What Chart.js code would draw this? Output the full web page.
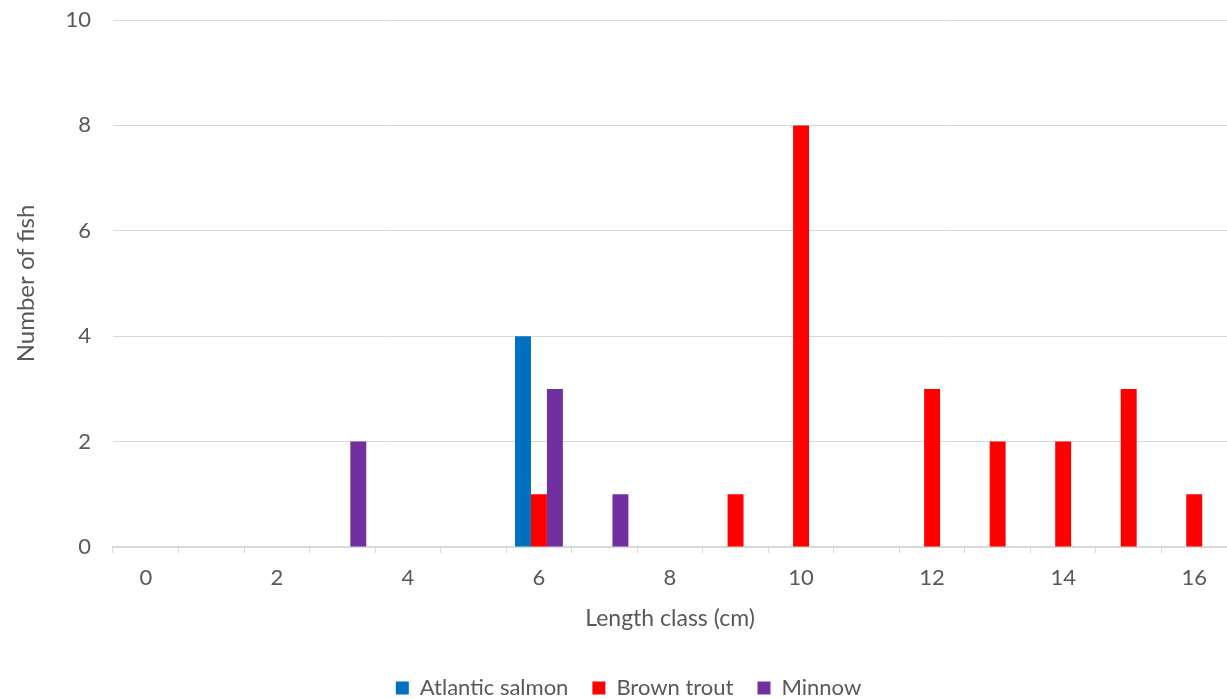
<!DOCTYPE html>
<html>
<head>
<meta charset="utf-8">
<script src="https://cdn.jsdelivr.net/npm/chart.js@4"></script>
<style>
  html, body { margin: 0; padding: 0; background: #fff; }
  #wrap { width: 1227px; height: 699px; }
</style>
</head>
<body>
<div id="wrap"><canvas id="myChart"></canvas></div>
<script>
const lengthClasses = ["0","1","2","3","4","5","6","7","8","9","10","11","12","13","14","15","16"];
const salmon = [0,0,0,0,0,0,4,0,0,0,0,0,0,0,0,0,0];
const trout  = [0,0,0,0,0,0,1,0,0,1,8,0,3,2,2,3,1];
const minnow = [0,0,0,2,0,0,3,1,0,0,0,0,0,0,0,0,0];
const yTicks = [0,2,4,6,8,10];

const textColor = "#595959";
const lineColor = "#d9d9d9";
const fontName = "Lato, 'Open Sans', sans-serif";

// legend sits a bit right of centre and close to the bottom edge, like Excel
const legendTweak = {
  id: "legendTweak",
  afterInit: function (chart) {
    const fit = chart.legend.fit;
    chart.legend.fit = function () {
      fit.call(this);
      this.height -= 10;
    };
  },
  afterLayout: function (chart) {
    chart.legend.left += 15;
    chart.legend.right += 15;
  }
};

new Chart("myChart", {
  type: "bar",
  data: {
    labels: lengthClasses,
    datasets: [{
      label: "Atlantic salmon",
      data: salmon,
      backgroundColor: "#0070C0"
    },{
      label: "Brown trout",
      data: trout,
      backgroundColor: "#FF0000"
    },{
      label: "Minnow",
      data: minnow,
      backgroundColor: "#7030A0"
    }]
  },
  plugins: [legendTweak],
  options: {
    responsive: true,
    maintainAspectRatio: false,
    animation: false,
    datasets: { bar: { categoryPercentage: 0.73, barPercentage: 1 } },
    layout: { padding: { top: 20, left: 0, right: 0, bottom: 0 } },
    plugins: {
      tooltip: { enabled: false },
      legend: {
        position: "bottom",
        labels: {
          color: textColor,
          font: { family: fontName, size: 22 },
          boxWidth: 13,
          boxHeight: 13,
          padding: 24
        }
      }
    },
    scales: {
      x: {
        afterFit: function (scale) { scale.height = 106; },
        grid: { display: true, drawOnChartArea: false, color: lineColor, tickLength: 6, offset: true },
        border: { color: lineColor, width: 2 },
        ticks: {
          autoSkip: false,
          maxRotation: 0,
          color: textColor,
          font: { family: fontName, size: 22 },
          padding: 12,
          callback: function (v, i) { return i % 2 === 0 ? lengthClasses[i] : ""; }
        },
        title: {
          display: true,
          text: "Length class (cm)",
          color: textColor,
          font: { family: fontName, size: 23 },
          padding: { top: 2, bottom: 21 }
        }
      },
      y: {
        min: 0,
        max: 10,
        afterBuildTicks: function (scale) { scale.ticks = yTicks.map(v => ({ value: v })); },
        afterFit: function (scale) {
          scale.width = 113;
          scale.paddingTop = 0;
          scale.paddingBottom = 0;
        },
        grid: { color: lineColor, lineWidth: 1, drawTicks: false },
        border: { display: false },
        ticks: {
          color: textColor,
          font: { family: fontName, size: 22 },
          padding: 22
        },
        title: {
          display: true,
          text: "Number of fish",
          color: textColor,
          font: { family: fontName, size: 24 },
          padding: { top: 12, bottom: 0 }
        }
      }
    }
  }
});
</script>
</body>
</html>
